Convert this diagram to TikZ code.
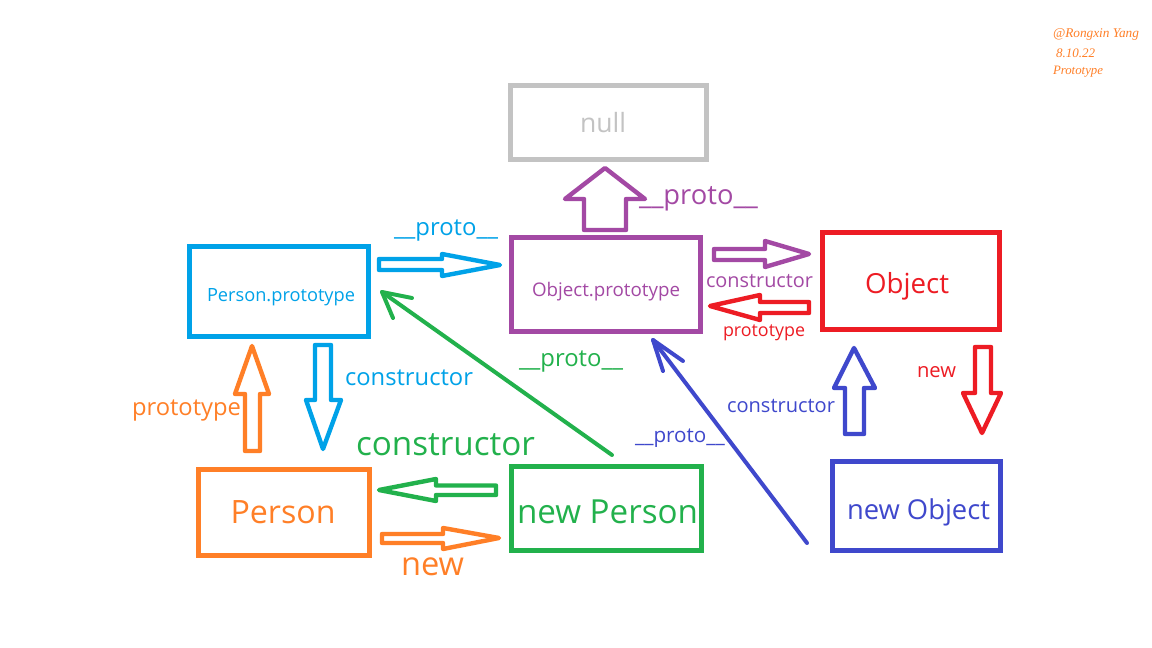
\documentclass[tikz,border=0pt]{standalone}
\usepackage{fontspec}
\setmainfont{Open Sans}
\newfontfamily\wmfont{Liberation Serif}
\usepackage{graphicx}
\newdimen\pxu \pxu=0.75pt
\newcommand{\fitw}[2]{\resizebox{#1\pxu}{!}{#2}}
\definecolor{cgray}{HTML}{C3C3C3}
\definecolor{cpurple}{HTML}{A349A4}
\definecolor{cblue}{HTML}{00A2E8}
\definecolor{cred}{HTML}{ED1C24}
\definecolor{corange}{HTML}{FF7F27}
\definecolor{cgreen}{HTML}{22B14C}
\definecolor{cdblue}{HTML}{3F48CC}
\begin{document}
\begin{tikzpicture}[x=0.75pt,y=-0.75pt,
  box/.style={draw, line width=3.75pt, inner sep=0pt, fill=none},
  barrow/.style={line width=3.3pt, line join=round},
  larrow/.style={line width=3pt, line cap=round, line join=round},
  txt/.style={inner sep=0pt, outer sep=0pt, anchor=base west},
  wm/.style={inner sep=0pt, outer sep=0pt, anchor=base west, text=corange, font=\wmfont\itshape}]
\fill[white] (0,0) rectangle (1152,648);
\useasboundingbox (0,0) rectangle (1152,648);

% boxes
\node[box, draw=cgray, minimum width=196*0.75pt, minimum height=74*0.75pt] (null) at (608.5,122.5) {};
\node[box, draw=cpurple, minimum width=189*0.75pt, minimum height=94*0.75pt] (objp) at (606,284.5) {};
\node[box, draw=cblue, minimum width=179*0.75pt, minimum height=90*0.75pt] (perp) at (279,291.5) {};
\node[box, draw=cred, minimum width=177*0.75pt, minimum height=97*0.75pt] (obj) at (911,281) {};
\node[box, draw=corange, minimum width=171*0.75pt, minimum height=86*0.75pt] (person) at (284,512.5) {};
\node[box, draw=cgreen, minimum width=190*0.75pt, minimum height=84*0.75pt] (newp) at (606.5,508.5) {};
\node[box, draw=cdblue, minimum width=168*0.75pt, minimum height=89*0.75pt] (newo) at (916.5,506) {};

% box texts
\node[txt, text=cgray] (tnull) at (580,133) {\fitw{46}{null}};
\node[txt, text=cpurple] (tobjp) at (532,297) {\fitw{148}{Object.prototype}};
\node[txt, text=cblue] (tperp) at (207,302) {\fitw{148}{Person.prototype}};
\node[txt, text=cred] (tobj) at (865,294) {\fitw{84}{Object}};
\node[txt, text=corange] (tperson) at (230.5,523) {\fitw{105}{Person}};
\node[txt, text=cgreen] (tnewp) at (517,523) {\fitw{181}{new Person}};
\node[txt, text=cdblue] (tnewo) at (847,519) {\fitw{143}{new Object}};

% block arrows
% Object.prototype -> null (purple, up)
\draw[barrow, cpurple] (584,230) -- (584,199) -- (565,199) -- (605,168) -- (645,199) -- (626,199) -- (626,230) -- cycle;
% Object.prototype -> Object (purple, right)
\draw[barrow, cpurple] (714,249) -- (765,249) -- (765,241) -- (809,254) -- (765,267) -- (765,260) -- (714,260) -- cycle;
% Object -> Object.prototype (red, left)
\draw[barrow, cred] (809,302) -- (760,302) -- (760,295) -- (710,306) -- (760,320) -- (760,313) -- (809,313) -- cycle;
% Person.prototype -> Object.prototype (blue, right)
\draw[barrow, cblue] (379,259) -- (442,259) -- (442,254) -- (500,265) -- (442,276) -- (442,270) -- (379,270) -- cycle;
% Person.prototype -> Person (blue, down)
\draw[barrow, cblue] (315,345) -- (331,345) -- (331,400) -- (341,400) -- (323,449) -- (306,400) -- (315,400) -- cycle;
% Person -> Person.prototype (orange, up)
\draw[barrow, corange] (245,451) -- (245,394) -- (235,394) -- (252,346) -- (269,394) -- (260,394) -- (260,451) -- cycle;
% new Object -> Object (dark blue, up)
\draw[barrow, cdblue] (845,434) -- (845,388) -- (834,388) -- (854,348) -- (875,388) -- (864,388) -- (864,434) -- cycle;
% Object -> new Object (red, down)
\draw[barrow, cred] (975,347) -- (991,347) -- (991,393) -- (1001,393) -- (982,433) -- (963,393) -- (975,393) -- cycle;
% new Person -> Person (green, left)
\draw[barrow, cgreen] (496,485.5) -- (436,485.5) -- (436,479) -- (379,490) -- (436,501) -- (436,495) -- (496,495) -- cycle;
% Person -> new Person (orange, right)
\draw[barrow, corange] (382,534) -- (443,534) -- (443,528) -- (499,538) -- (443,549) -- (443,543) -- (382,543) -- cycle;

% line arrows
\coordinate (gs) at (612,455);
\coordinate (gt) at (382,292);
\draw[larrow, cgreen] (gs) -- (gt);
\draw[larrow, cgreen] (412,298) -- (gt) -- (393,318);
\coordinate (bs) at (807,543);
\coordinate (bt) at (653,340);
\draw[larrow, cdblue] (bs) -- (bt);
\draw[larrow, cdblue] (683,361) -- (bt) -- (663,371);

% arrow labels
\node[txt, text=cpurple] (l1) at (639,205) {\fitw{119}{\_\_proto\_\_}};
\node[txt, text=cpurple] (l2) at (706,288) {\fitw{107}{constructor}};
\node[txt, text=cred] (l3) at (723,337) {\fitw{82}{prototype}};
\node[txt, text=cblue] (l4) at (394,236) {\fitw{104}{\_\_proto\_\_}};
\node[txt, text=cblue] (l5) at (345,385) {\fitw{128}{constructor}};
\node[txt, text=corange] (l6) at (132,416) {\fitw{109}{prototype}};
\node[txt, text=cgreen] (l7) at (356,455.5) {\fitw{179}{constructor}};
\node[txt, text=corange] (l8) at (401,575) {\fitw{63}{new}};
\node[txt, text=cgreen] (l9) at (519,367) {\fitw{104}{\_\_proto\_\_}};
\node[txt, text=cdblue] (l10) at (635,442) {\fitw{90}{\_\_proto\_\_}};
\node[txt, text=cdblue] (l11) at (727,412) {\fitw{108}{constructor}};
\node[txt, text=cred] (l12) at (917,378) {\fitw{39}{new}};

% watermark
\node[wm] (w1) at (1053,38) {\fitw{86}{@Rongxin Yang}};
\node[wm] (w2) at (1056,58) {\fitw{39}{8.10.22}};
\node[wm] (w3) at (1053,75) {\fitw{50}{Prototype}};
\end{tikzpicture}
\end{document}
